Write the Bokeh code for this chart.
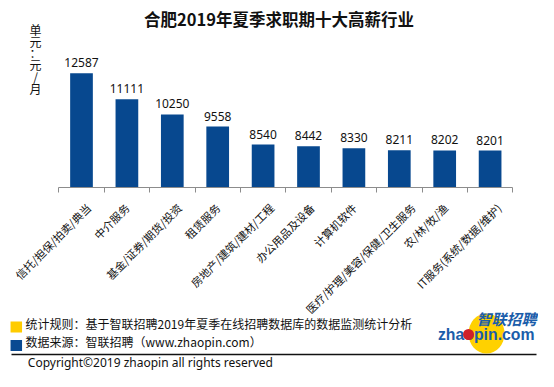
from bokeh.plotting import figure
from bokeh.models import Range1d, FixedTicker, LinearAxis, ColumnDataSource
from bokeh.core.properties import value
from bokeh.embed import file_html
from bokeh.resources import INLINE
import math

categories = ["信托/担保/拍卖/典当", "中介服务", "基金/证券/期货/投资", "租赁服务",
              "房地产/建筑/建材/工程", "办公用品及设备", "计算机软件",
              "医疗/护理/美容/保健/卫生服务", "农/林/牧/渔", "IT服务(系统/数据/维护)"]
salaries = [12587, 11111, 10250, 9558, 8540, 8442, 8330, 8211, 8202, 8201]

title_text = "合肥2019年夏季求职期十大高薪行业"
unit_chars = ["单", "元", "：", "元", "/", "月"]
note1 = "统计规则：基于智联招聘2019年夏季在线招聘数据库的数据监测统计分析"
note2 = "数据来源：智联招聘（www.zhaopin.com）"
copyright_text = "Copyright©2019 zhaopin all rights reserved"
logo_cn = "智联招聘"
logo_en = "zhaopin.com"

CJK = "Noto Sans CJK SC"
BAR = "#07488F"
LOGO_BLUE = "#1B5DAA"
TXT = "#111111"
W, H = 538, 371

# ---- geometry (canvas pixels) ----
AX_LEFT, PX_UNIT = 58.3, 45.4          # axis start and pixels per category
BASE_Y, UNITS_PX = 187.0, 56.8         # baseline and salary units per pixel
Y0 = 6100                              # value at the baseline

def dx(px):
    return (px - AX_LEFT) / PX_UNIT

def dy(py):
    return Y0 + (BASE_Y - py) * UNITS_PX

n = len(categories)
centers = [i + 0.5 for i in range(n)]
src = ColumnDataSource(dict(x=centers, top=salaries, lbl=[str(v) for v in salaries]))

p = figure(width=W, height=H, x_range=Range1d(dx(0), dx(W)), y_range=Range1d(dy(H), dy(0)),
           output_backend="svg", toolbar_location=None, tools="", min_border=0,
           x_axis_type=None, y_axis_type=None)
p.outline_line_color = None
p.grid.visible = False

p.vbar(x="x", top="top", bottom=Y0, width=0.5, source=src, color=BAR, line_color=None)
p.text(x="x", y="top", text="lbl", source=src, text_align="center", text_baseline="alphabetic",
       y_offset=-10.5, text_font=value("Noto Sans"), text_font_size="12px", text_color=TXT)

# long rotated labels sit a little right of their bar (as in the reference)
def label_len(s):
    return sum(11 if ord(c) > 255 else 4.5 for c in s)

label_pos = [round(c + max(0.0, 0.14 * (label_len(cat) - 52)) / PX_UNIT, 4)
             for c, cat in zip(centers, categories)]

xaxis = LinearAxis(ticker=FixedTicker(ticks=label_pos, minor_ticks=list(range(n + 1))),
                   bounds=(0, n), fixed_location=Y0)
xaxis.major_label_overrides = {t: cat for t, cat in zip(label_pos, categories)}
xaxis.major_label_orientation = math.pi / 4
xaxis.major_label_text_font = CJK
xaxis.major_label_text_font_size = "11px"
xaxis.major_label_text_color = TXT
xaxis.major_label_standoff = 13
xaxis.major_tick_out = 0
xaxis.major_tick_in = 0
xaxis.minor_tick_out = 5
xaxis.minor_tick_in = 0
xaxis.minor_tick_line_color = "#8C8C8C"
xaxis.axis_line_color = "#8C8C8C"
p.add_layout(xaxis, "below")

# title and vertical unit label (one upright character per line)
p.text(x=[dx(278.5)], y=[dy(18.5)], text=[title_text], text_align="center",
       text_baseline="middle", text_font=value(CJK), text_font_size="16.5px",
       text_font_style="bold", text_color=TXT)
p.text(x=[dx(35)] * len(unit_chars), y=[dy(29 + 11.7 * i) for i in range(len(unit_chars))],
       text=unit_chars, text_align="center", text_baseline="middle",
       text_font=value(CJK), text_font_size="12px", text_color=TXT)

# footer
p.rect(x=[dx(15.8), dx(15.8)], y=[dy(326.5), dy(345)], width=11.5, height=11,
       width_units="screen", height_units="screen",
       color=["#FFCC00", "#0A4A92"], line_color=None)
p.text(x=[dx(25), dx(25)], y=[dy(322.5), dy(341)], text=[note1, note2],
       text_font=value(CJK), text_font_size="12px", text_baseline="middle", text_color=TXT)
p.line(x=[dx(11), dx(536)], y=[dy(354), dy(354)], line_color=TXT, line_width=1.5)
p.text(x=[dx(27.3)], y=[dy(362.3)], text=[copyright_text], text_font=value("Noto Sans"),
       text_font_size="12px", text_baseline="middle", text_color=TXT)
# logo
p.ellipse(x=[dx(486)], y=[dy(333)], width=36, height=40, width_units="screen",
          height_units="screen", color="#FFD100", line_color=None)
p.text(x=[dx(536)], y=[dy(318)], text=[logo_cn], text_font=value(CJK),
       text_font_size="15px", text_font_style="bold italic", text_align="right",
       text_baseline="middle", text_color=LOGO_BLUE)
p.text(x=[dx(534)], y=[dy(333.5)], text=[logo_en], text_font=value("Liberation Sans"),
       text_font_size="15.8px", text_font_style="bold", text_align="right",
       text_baseline="middle", text_color=LOGO_BLUE)
p.scatter(x=[dx(468)], y=[dy(334)], size=11, marker="circle", color="#D0202A", line_color=None)

open("out.html", "w").write(file_html(p, INLINE))
